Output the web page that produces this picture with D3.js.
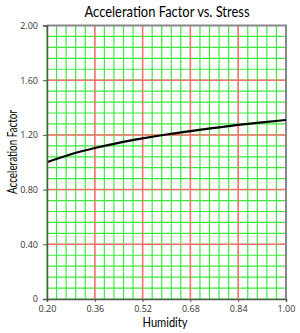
<!DOCTYPE html>
<html>
<head>
<meta charset="utf-8">
<script src="https://cdn.jsdelivr.net/npm/d3@7"></script>
<style>
  body { margin: 0; background: #fff; }
  text { font-family: Lato, "Open Sans", sans-serif; }
</style>
</head>
<body>
<div id="chart"></div>
<script>
// values
var humidity = [0.20, 0.28, 0.36, 0.44, 0.52, 0.60, 0.68, 0.76, 0.84, 0.92, 1.00];
var accelFactor = [1.00, 1.058, 1.104, 1.142, 1.174, 1.203, 1.228, 1.251, 1.273, 1.292, 1.309];
var xTicks = [0.20, 0.36, 0.52, 0.68, 0.84, 1.00];
var yTicks = [0, 0.40, 0.80, 1.20, 1.60, 2.00];

var width = 300, height = 333;
var margin = {top: 25.5, right: 14, bottom: 34, left: 47};

var svg = d3.select("#chart").append("svg")
    .attr("width", width)
    .attr("height", height);

var x = d3.scaleLinear().domain([0.20, 1.00]).range([margin.left, width - margin.right]);
var y = d3.scaleLinear().domain([0, 2.00]).range([height - margin.bottom, margin.top]);

// minor grid (25 steps each way)
var xMinor = d3.range(26).map(function (i) { return 0.20 + i * 0.032; });
var yMinor = d3.range(26).map(function (i) { return i * 0.08; });

var grid = svg.append("g");
grid.selectAll(".vx").data(xMinor).enter().append("line")
    .attr("x1", function (d) { return x(d); }).attr("x2", function (d) { return x(d); })
    .attr("y1", y(0)).attr("y2", y(2))
    .attr("stroke", "#3ce83c").attr("stroke-width", 1.2);
grid.selectAll(".hy").data(yMinor).enter().append("line")
    .attr("y1", function (d) { return y(d); }).attr("y2", function (d) { return y(d); })
    .attr("x1", x(0.2)).attr("x2", x(1))
    .attr("stroke", "#3ce83c").attr("stroke-width", 1.2);

// major grid in red
grid.selectAll(".vmaj").data(xTicks.slice(1, -1)).enter().append("line")
    .attr("x1", function (d) { return x(d); }).attr("x2", function (d) { return x(d); })
    .attr("y1", y(0)).attr("y2", y(2))
    .attr("stroke", "#ff7070").attr("stroke-width", 1.5);
grid.selectAll(".hmaj").data(yTicks.slice(1, -1)).enter().append("line")
    .attr("y1", function (d) { return y(d); }).attr("y2", function (d) { return y(d); })
    .attr("x1", x(0.2)).attr("x2", x(1))
    .attr("stroke", "#ff7070").attr("stroke-width", 1.5);

// top / right border
svg.append("path")
    .attr("d", "M" + x(0.2) + "," + y(2) + "H" + x(1) + "V" + y(0))
    .attr("fill", "none").attr("stroke", "#888").attr("stroke-width", 2);

// curve
var line = d3.line()
    .x(function (d, i) { return x(humidity[i]); })
    .y(function (d) { return y(d); })
    .curve(d3.curveMonotoneX);

svg.append("path")
    .datum(accelFactor)
    .attr("d", line)
    .attr("fill", "none")
    .attr("stroke", "#000")
    .attr("stroke-width", 2.2);

// axes
var xAxis = svg.append("g")
    .attr("transform", "translate(0," + y(0) + ")")
    .call(d3.axisBottom(x).tickValues(xTicks).tickSize(3).tickPadding(4)
        .tickFormat(d3.format(".2f")));
var yAxis = svg.append("g")
    .attr("transform", "translate(" + x(0.2) + ",0)")
    .call(d3.axisLeft(y).tickValues(yTicks).tickSize(4).tickPadding(5)
        .tickFormat(function (d) { return d === 0 ? "0" : d3.format(".2f")(d); }));

[xAxis, yAxis].forEach(function (a) {
    a.select(".domain").attr("stroke", "#555").attr("stroke-width", 1.5);
    a.selectAll(".tick line").attr("stroke", "#555");
    a.selectAll(".tick text").attr("fill", "#333").style("font-size", "9px")
        .style("font-family", "'Open Sans', sans-serif");
});

// titles
svg.append("text")
    .attr("x", 167).attr("y", 17)
    .attr("text-anchor", "middle")
    .attr("textLength", 165).attr("lengthAdjust", "spacingAndGlyphs")
    .style("font-size", "15px")
    .text("Acceleration Factor vs. Stress");

svg.append("text")
    .attr("x", 165).attr("y", 327)
    .attr("text-anchor", "middle")
    .attr("textLength", 45).attr("lengthAdjust", "spacingAndGlyphs")
    .style("font-size", "13px")
    .text("Humidity");

svg.append("text")
    .attr("transform", "translate(17,152) rotate(-90)")
    .attr("text-anchor", "middle")
    .attr("textLength", 84).attr("lengthAdjust", "spacingAndGlyphs")
    .style("font-size", "13px")
    .text("Acceleration Factor");
</script>
</body>
</html>
